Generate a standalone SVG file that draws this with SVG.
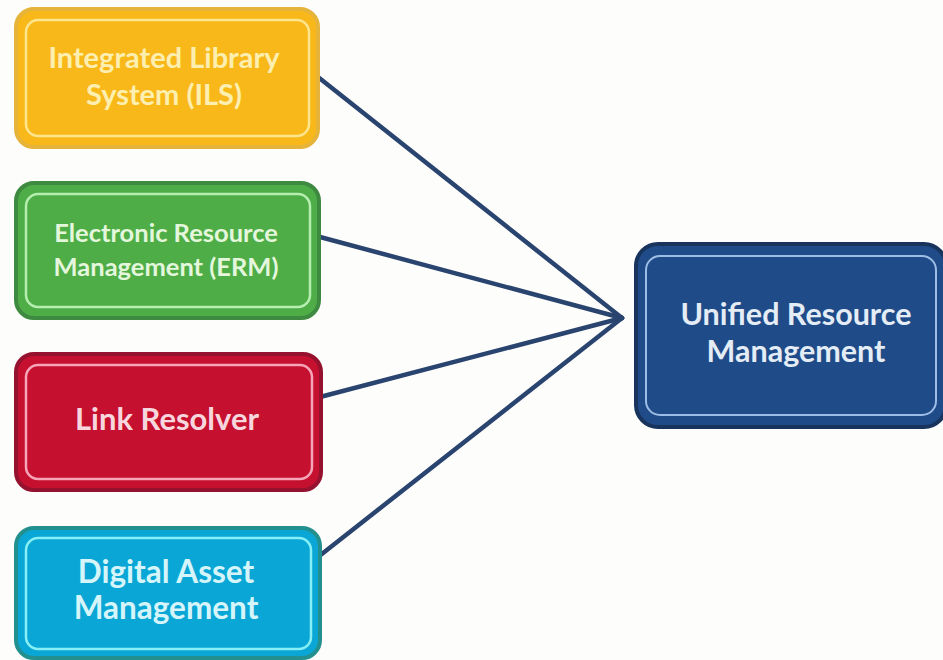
<svg xmlns="http://www.w3.org/2000/svg" width="943" height="660" viewBox="0 0 943 660">
<style>
.t{font-family:Lato,"Open Sans","Liberation Sans",sans-serif;font-weight:bold;text-anchor:middle}
.c{stroke:#2a4470;stroke-width:4.5;stroke-linecap:round;fill:none}
</style>
<rect width="943" height="660" fill="#fdfdfb"/>
<g id="connectors">
<line class="c" x1="318" y1="77" x2="622" y2="318"/>
<line class="c" x1="320" y1="237" x2="622" y2="318"/>
<line class="c" x1="320" y1="397" x2="622" y2="318"/>
<line class="c" x1="318" y1="557" x2="622" y2="318"/>
</g>
<g id="ils">
<rect x="16" y="9" width="302" height="138" rx="18" fill="#f9b81a" stroke="#e6b43a" stroke-width="4"/>
<rect x="26" y="20" width="283" height="116" rx="12" fill="none" stroke="#fce58c" stroke-width="2.5"/>
<text class="t" x="164" y="68" font-size="29" fill="#fcefb0">Integrated Library</text>
<text class="t" x="164" y="105" font-size="29" fill="#fcefb0">System (ILS)</text>
</g>
<g id="erm">
<rect x="16" y="183" width="303" height="135" rx="18" fill="#4fad48" stroke="#3e8a40" stroke-width="4"/>
<rect x="26" y="194" width="284" height="113" rx="12" fill="none" stroke="#b5eeae" stroke-width="2.5"/>
<text class="t" x="166" y="242" font-size="25.5" fill="#e4f7dc">Electronic Resource</text>
<text class="t" x="166" y="276" font-size="25.5" fill="#e4f7dc">Management (ERM)</text>
</g>
<g id="link">
<rect x="16" y="354" width="305" height="136" rx="18" fill="#c6102f" stroke="#95122f" stroke-width="4"/>
<rect x="26" y="365" width="286" height="114" rx="12" fill="none" stroke="#f6a4b8" stroke-width="2.5"/>
<text class="t" x="167" y="430" font-size="31" fill="#f7d6de">Link Resolver</text>
</g>
<g id="dam">
<rect x="16" y="528" width="304" height="130" rx="18" fill="#0aa7d6" stroke="#23908f" stroke-width="4"/>
<rect x="26" y="538" width="285" height="111" rx="12" fill="none" stroke="#86f0f6" stroke-width="2.5"/>
<text class="t" x="166" y="583" font-size="31.5" fill="#d5f5fa">Digital Asset</text>
<text class="t" x="166" y="619" font-size="31.5" fill="#d5f5fa">Management</text>
</g>
<g id="urm">
<rect x="636" y="244" width="310" height="183" rx="22" fill="#1f4b88" stroke="#18345d" stroke-width="4"/>
<rect x="646" y="256" width="290" height="159" rx="14" fill="none" stroke="#9dbde6" stroke-width="2"/>
<text class="t" x="796" y="325" font-size="30.5" fill="#e4ecf5">Unified Resource</text>
<text class="t" x="796" y="362" font-size="30.5" fill="#e4ecf5">Management</text>
</g>
</svg>
